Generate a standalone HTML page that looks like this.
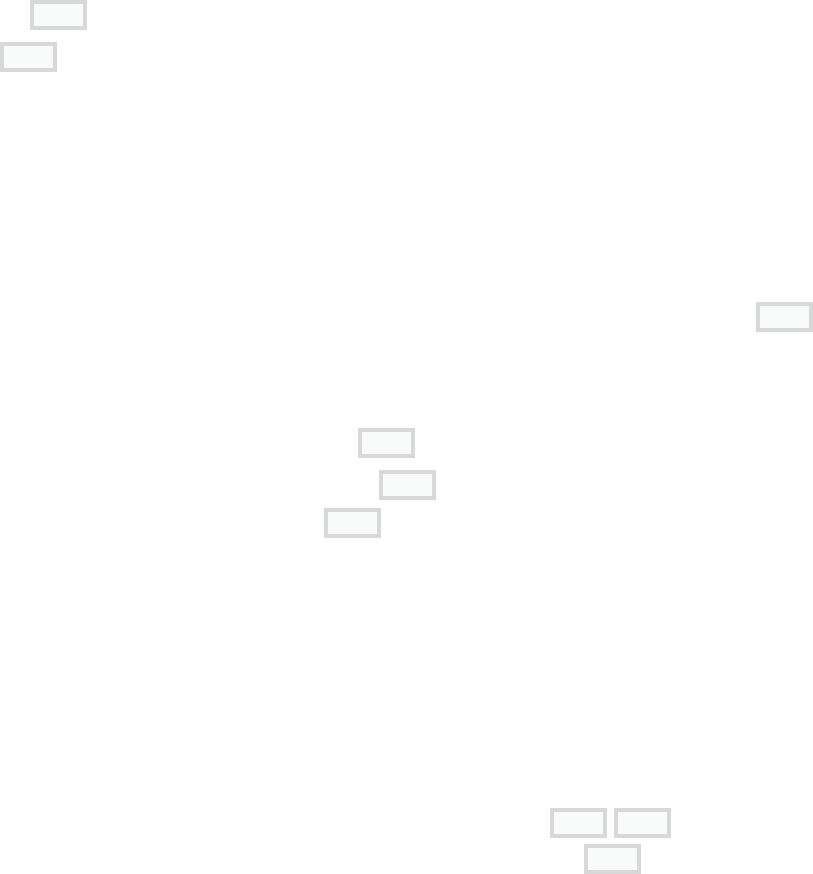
<!DOCTYPE html>
<html><head><meta charset="utf-8"><style>
html,body{margin:0;padding:0;background:#fff;width:813px;height:874px;overflow:hidden;position:relative}
.b{position:absolute;width:57px;height:30px;box-sizing:border-box;border:4px solid #d7d8d7;background:#f9fbfa}
</style></head><body>
<div class="b" style="left:30px;top:0px"></div>
<div class="b" style="left:0px;top:42px"></div>
<div class="b" style="left:756px;top:302px"></div>
<div class="b" style="left:358px;top:428px"></div>
<div class="b" style="left:379px;top:470px"></div>
<div class="b" style="left:324px;top:508px"></div>
<div class="b" style="left:550px;top:808px"></div>
<div class="b" style="left:614px;top:808px"></div>
<div class="b" style="left:584px;top:844px"></div>
</body></html>
